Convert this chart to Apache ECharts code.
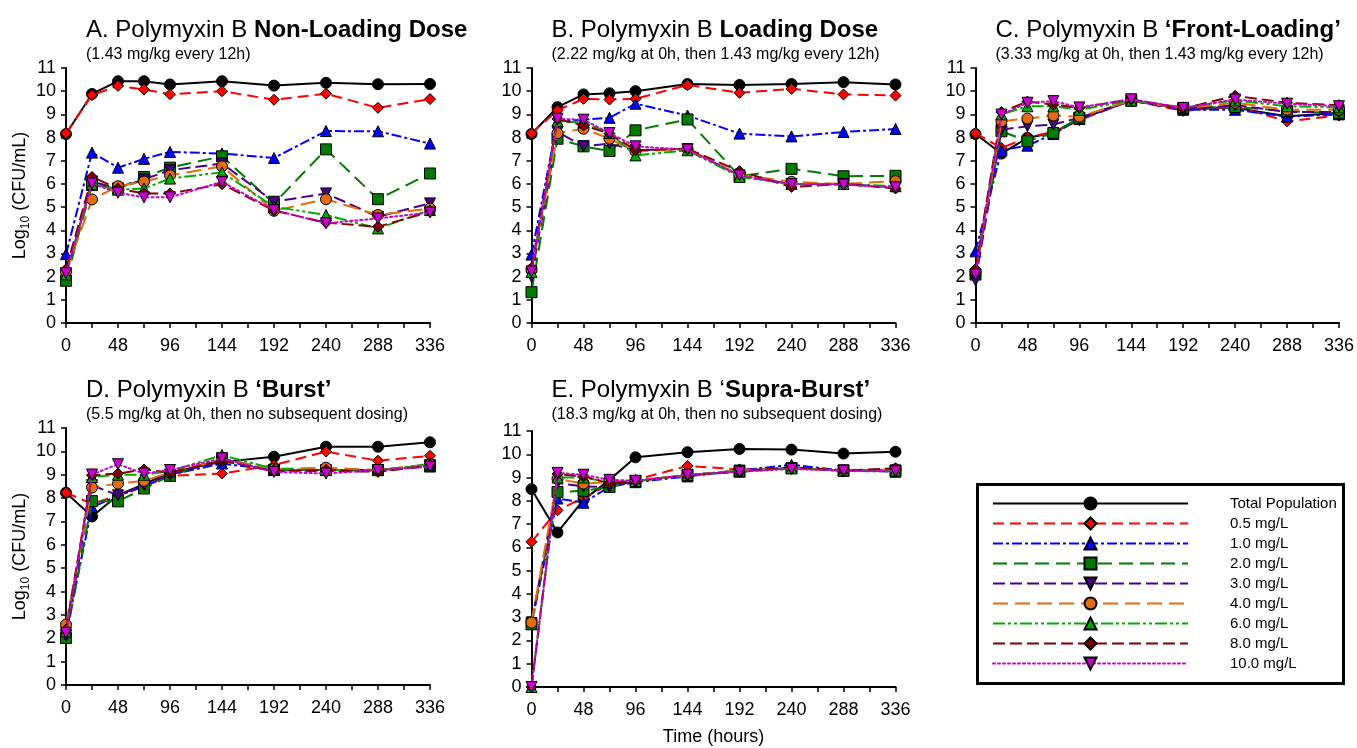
<!DOCTYPE html>
<html>
<head>
<meta charset="utf-8">
<script src="https://cdn.jsdelivr.net/npm/echarts@6/dist/echarts.min.js"></script>
<style>
  html, body { margin: 0; padding: 0; background: #fff; }
  #chart { width: 1357px; height: 748px; }
</style>
</head>
<body>
<div id="chart"></div>
<script>
// Sampling times (h) and group names
const hours = [0, 24, 48, 72, 96, 144, 192, 240, 288, 336];
const seriesNames = ['Total Population', '0.5 mg/L', '1.0 mg/L', '2.0 mg/L', '3.0 mg/L',
                     '4.0 mg/L', '6.0 mg/L', '8.0 mg/L', '10.0 mg/L'];
const xLabelHours = [0, 48, 96, 144, 192, 240, 288, 336];
const yTicks = [0, 1, 2, 3, 4, 5, 6, 7, 8, 9, 10, 11];

// Log10 CFU/mL, one row per group (same order as seriesNames)
const panelA = [
  [8.15, 9.88, 10.43, 10.43, 10.29, 10.43, 10.24, 10.36, 10.30, 10.31],
  [8.19, 9.83, 10.23, 10.07, 9.87, 10.00, 9.63, 9.89, 9.28, 9.66],
  [2.97, 7.35, 6.70, 7.08, 7.38, 7.31, 7.12, 8.28, 8.27, 7.74],
  [1.82, 5.95, 5.80, 6.30, 6.70, 7.19, 5.15, 7.49, 5.34, 6.45],
  [2.10, 6.10, 5.80, 6.20, 6.59, 6.88, 5.23, 5.59, 4.58, 5.16],
  [2.20, 5.33, 5.90, 6.10, 6.37, 6.76, 4.84, 5.34, 4.66, 4.94],
  [2.10, 6.00, 5.75, 5.80, 6.23, 6.50, 5.01, 4.66, 4.08, 4.87],
  [2.32, 6.30, 5.80, 5.59, 5.59, 5.99, 4.85, 4.33, 4.15, 4.80],
  [2.15, 6.02, 5.62, 5.42, 5.42, 6.09, 4.87, 4.30, 4.51, 4.77]
];
const panelB = [
  [8.15, 9.31, 9.86, 9.91, 10.00, 10.31, 10.27, 10.31, 10.39, 10.29],
  [8.19, 9.17, 9.67, 9.64, 9.67, 10.27, 9.93, 10.10, 9.86, 9.81],
  [2.95, 8.71, 8.77, 8.85, 9.46, 8.95, 8.17, 8.05, 8.24, 8.37],
  [1.33, 7.95, 7.62, 7.42, 8.31, 8.78, 6.33, 6.65, 6.33, 6.35],
  [2.00, 8.24, 7.62, 7.74, 7.45, 7.50, 6.35, 6.00, 6.00, 5.85],
  [2.30, 8.19, 8.38, 7.95, 7.40, 7.50, 6.40, 6.09, 6.00, 6.12],
  [2.20, 8.70, 8.65, 8.20, 7.23, 7.45, 6.30, 6.00, 6.00, 5.90],
  [2.36, 8.80, 8.52, 8.17, 7.45, 7.52, 6.55, 5.87, 6.00, 5.80],
  [2.22, 8.81, 8.77, 8.19, 7.62, 7.48, 6.37, 5.99, 5.97, 5.85]
];
const panelC = [
  [8.15, 7.31, 7.99, 8.20, 8.80, 9.60, 9.28, 9.28, 8.92, 9.06],
  [8.19, 7.55, 8.00, 8.25, 8.75, 9.60, 9.15, 9.35, 8.70, 8.95],
  [3.09, 7.45, 7.65, 8.15, 8.80, 9.60, 9.20, 9.20, 8.90, 9.00],
  [2.09, 8.27, 7.84, 8.20, 8.85, 9.60, 9.25, 9.32, 9.14, 9.05],
  [1.84, 8.34, 8.49, 8.56, 8.85, 9.60, 9.20, 9.40, 9.10, 9.10],
  [2.20, 8.70, 8.82, 8.95, 8.90, 9.60, 9.25, 9.50, 9.20, 9.20],
  [2.30, 9.00, 9.35, 9.35, 9.20, 9.60, 9.30, 9.60, 9.35, 9.30],
  [2.33, 9.10, 9.55, 9.42, 9.28, 9.65, 9.25, 9.80, 9.50, 9.40],
  [2.09, 8.99, 9.50, 9.57, 9.30, 9.65, 9.28, 9.64, 9.46, 9.35]
];
const panelD = [
  [8.23, 7.21, 8.12, 8.60, 9.10, 9.55, 9.77, 10.20, 10.20, 10.39],
  [8.23, 7.76, 8.10, 8.50, 8.95, 9.05, 9.41, 9.99, 9.60, 9.81],
  [2.20, 7.61, 8.10, 8.50, 9.00, 9.48, 9.20, 9.20, 9.20, 9.35],
  [2.01, 7.87, 7.86, 8.41, 8.95, 9.70, 9.20, 9.20, 9.20, 9.40],
  [2.10, 8.55, 8.12, 8.55, 9.00, 9.60, 9.20, 9.15, 9.15, 9.40],
  [2.59, 8.45, 8.62, 8.74, 9.10, 9.65, 9.25, 9.30, 9.20, 9.45],
  [2.30, 8.90, 9.00, 9.00, 9.15, 9.84, 9.25, 9.20, 9.20, 9.45],
  [2.37, 8.98, 9.05, 9.22, 9.10, 9.60, 9.15, 9.20, 9.12, 9.40],
  [2.23, 9.01, 9.45, 9.05, 9.20, 9.70, 9.12, 9.05, 9.20, 9.35]
];
const panelE = [
  [8.50, 6.64, 8.04, 8.90, 9.87, 10.09, 10.23, 10.20, 10.03, 10.11],
  [6.24, 7.59, 8.13, 8.70, 8.90, 9.50, 9.35, 9.40, 9.30, 9.30],
  [2.70, 8.10, 7.92, 8.60, 8.80, 9.05, 9.30, 9.55, 9.30, 9.25],
  [2.70, 8.38, 8.43, 8.60, 8.85, 9.10, 9.25, 9.40, 9.30, 9.30],
  [2.75, 8.76, 8.62, 8.60, 8.85, 9.10, 9.30, 9.40, 9.30, 9.30],
  [2.77, 8.94, 8.74, 8.80, 8.85, 9.10, 9.30, 9.40, 9.30, 9.35],
  [0.00, 9.00, 9.00, 8.80, 8.85, 9.10, 9.30, 9.40, 9.30, 9.30],
  [0.00, 9.15, 9.05, 8.75, 8.85, 9.10, 9.25, 9.45, 9.30, 9.40],
  [0.00, 9.20, 9.12, 8.90, 8.86, 9.12, 9.25, 9.37, 9.30, 9.27]
];

const titleLead = ['A. Polymyxin B ', 'B. Polymyxin B ', 'C. Polymyxin B ', 'D. Polymyxin B ', 'E. Polymyxin B \u2018'];
const titleBold = ['Non-Loading Dose', 'Loading Dose', '\u2018Front-Loading\u2019', '\u2018Burst\u2019', 'Supra-Burst\u2019'];
const subtitles = [
  '(1.43 mg/kg every 12h)',
  '(2.22 mg/kg at 0h, then 1.43 mg/kg every 12h)',
  '(3.33 mg/kg at 0h, then 1.43 mg/kg every 12h)',
  '(5.5 mg/kg at 0h, then no subsequent dosing)',
  '(18.3 mg/kg at 0h, then no subsequent dosing)'
];

const panels = [panelA, panelB, panelC, panelD, panelE];

// ---- layout & styling ----
const FONT = '"Liberation Sans", Arial, sans-serif';
const grids = [
  { left: 66,    top: 68,  width: 364, height: 255 },
  { left: 531.5, top: 68,  width: 364, height: 255 },
  { left: 975.5, top: 68,  width: 364, height: 255 },
  { left: 66,    top: 428, width: 364, height: 257 },
  { left: 531.5, top: 431, width: 364, height: 256 }
];
const DOWN_TRI = 'path://M0,0L20,0L10,18Z';
const styles = [
  { color: '#000000', fill: '#000000', dash: 'solid',             symbol: 'circle' },
  { color: '#FF0000', fill: '#FF0000', dash: [11, 6],             symbol: 'diamond' },
  { color: '#0000FF', fill: '#0000FF', dash: [10, 3, 3, 3],       symbol: 'triangle' },
  { color: '#007A00', fill: '#007A00', dash: [14, 7],             symbol: 'rect' },
  { color: '#4B0082', fill: '#4B0082', dash: [12, 5],             symbol: DOWN_TRI },
  { color: '#E46C0A', fill: '#E46C0A', dash: [15, 7],             symbol: 'circle' },
  { color: '#00AA00', fill: '#00AA00', dash: [12, 3, 3, 3, 3, 3], symbol: 'triangle' },
  { color: '#800000', fill: '#800000', dash: [12, 5],             symbol: 'diamond' },
  { color: '#CC00CC', fill: '#CC00CC', dash: [2, 3],              symbol: DOWN_TRI }
];

const axisLineStyle = { color: '#000', width: 2 };
const labelStyle = { color: '#000', fontSize: 18, fontFamily: FONT };

const xAxes = grids.map((g, i) => ({
  gridIndex: i, type: 'value', min: 0, max: 336, interval: 24,
  axisLine: { show: true, onZero: false, lineStyle: axisLineStyle },
  axisTick: { show: true, length: 5, lineStyle: { color: '#000', width: 1.5 } },
  axisLabel: Object.assign({ margin: 14, formatter: v => xLabelHours.includes(v) ? String(v) : '' }, labelStyle),
  splitLine: { show: false },
  name: i === 4 ? 'Time (hours)' : '',
  nameLocation: 'middle', nameGap: 41,
  nameTextStyle: { color: '#000', fontSize: 18, fontFamily: FONT }
}));

const yAxes = grids.map((g, i) => ({
  gridIndex: i, type: 'value', min: 0, max: 11, interval: 1,
  axisLine: { show: true, onZero: false, lineStyle: axisLineStyle },
  axisTick: { show: true, length: 5, lineStyle: { color: '#000', width: 1.5 } },
  axisLabel: Object.assign({ margin: 10, formatter: v => yTicks.includes(v) ? String(v) : '' }, labelStyle),
  splitLine: { show: false },
  name: (i === 0 || i === 3) ? '{t|Log}{s|10}{t| (CFU/mL)}' : '',
  nameLocation: 'middle', nameRotate: 90, nameGap: 30,
  nameTextStyle: {
    rich: {
      t: { fontSize: 18, fontFamily: FONT, color: '#000', lineHeight: 24, verticalAlign: 'middle' },
      s: { fontSize: 12, fontFamily: FONT, color: '#000', lineHeight: 12, verticalAlign: 'bottom' }
    }
  }
}));

const titles = grids.map((g, i) => ({
  left: g.left + 20, top: i < 3 ? 18 : 378, padding: 0, itemGap: 5,
  text: '{r|' + titleLead[i] + '}{b|' + titleBold[i] + '}',
  textStyle: {
    fontWeight: 'normal',
    rich: {
      r: { fontSize: 24, fontFamily: FONT, color: '#000', fontWeight: 'normal' },
      b: { fontSize: 24, fontFamily: FONT, color: '#000', fontWeight: 'bold' }
    }
  },
  subtext: subtitles[i],
  subtextStyle: { fontSize: 16, fontFamily: FONT, color: '#000' }
}));

const series = [];
panels.forEach((rows, p) => {
  rows.forEach((vals, k) => {
    const st = styles[k];
    series.push({
      type: 'line', name: seriesNames[k], xAxisIndex: p, yAxisIndex: p,
      data: hours.map((h, j) => [h, vals[j]]),
      symbol: st.symbol, symbolSize: 11,
      lineStyle: { color: st.color, width: 2, type: st.dash, cap: k === 8 ? 'round' : 'butt' },
      itemStyle: { color: st.fill, borderColor: '#000', borderWidth: 1 },
      z: 2 + k, clip: false, animation: false
    });
  });
});

const chart = echarts.init(document.getElementById('chart'), null, { renderer: 'canvas' });
chart.setOption({
  backgroundColor: '#fff',
  animation: false,
  title: titles,
  grid: grids,
  xAxis: xAxes,
  yAxis: yAxes,
  legend: {
    orient: 'vertical', left: 987, top: 491,
    itemWidth: 195, itemHeight: 15, itemGap: 5,
    selectedMode: false,
    data: seriesNames,
    textStyle: { color: '#000', fontSize: 15, fontFamily: FONT, padding: [0, 0, 0, 37] }
  },
  graphic: [{
    type: 'rect', left: 975, top: 482,
    shape: { width: 366, height: 199 },
    style: { fill: 'none', stroke: '#000', lineWidth: 3 }
  }],
  series: series
});
</script>
</body>
</html>
